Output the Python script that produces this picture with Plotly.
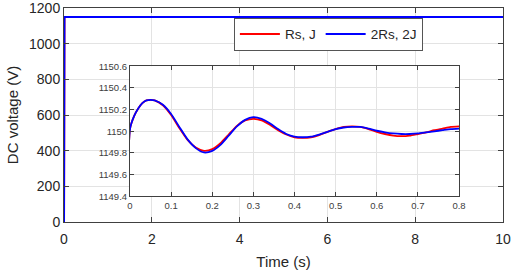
import plotly.graph_objects as go

# Inset detail (0 - 0.8 s)
t_fine = [0, 0.01, 0.02, 0.03, 0.04, 0.05, 0.06, 0.08, 0.10, 0.12, 0.14, 0.16, 0.18, 0.20,
          0.22, 0.24, 0.26, 0.28, 0.30, 0.32, 0.34, 0.36, 0.38, 0.40, 0.42, 0.44, 0.46,
          0.48, 0.50, 0.52, 0.54, 0.56, 0.58, 0.60, 0.62, 0.64, 0.66, 0.68, 0.70, 0.72,
          0.74, 0.76, 0.78, 0.80]
v_red = [1150.02, 1150.14, 1150.21, 1150.26, 1150.285, 1150.29, 1150.285, 1150.24, 1150.15,
         1150.03, 1149.92, 1149.85, 1149.82, 1149.835, 1149.89, 1149.97, 1150.05, 1150.10,
         1150.115, 1150.10, 1150.06, 1150.01, 1149.97, 1149.945, 1149.94, 1149.945, 1149.965,
         1149.995, 1150.02, 1150.04, 1150.045, 1150.04, 1150.02, 1149.995, 1149.975, 1149.96,
         1149.955, 1149.96, 1149.975, 1149.99, 1150.01, 1150.025, 1150.04, 1150.045]
v_blue = [1150.02, 1150.14, 1150.21, 1150.26, 1150.285, 1150.29, 1150.285, 1150.245, 1150.16,
          1150.04, 1149.925, 1149.845, 1149.805, 1149.82, 1149.875, 1149.96, 1150.045, 1150.105,
          1150.13, 1150.115, 1150.075, 1150.02, 1149.975, 1149.95, 1149.945, 1149.95, 1149.97,
          1149.995, 1150.02, 1150.035, 1150.04, 1150.04, 1150.025, 1150.005, 1149.99, 1149.98,
          1149.975, 1149.975, 1149.98, 1149.99, 1150.0, 1150.01, 1150.02, 1150.025]

# Full run: start-up from 0 V then steady state until 10 s
t_start = [0]
v_start = [0]
t_end = [10]
v_end = [1150]

names = ["Rs, J", "2Rs, 2J"]
colors = ["#ff0000", "#0000ff"]

FONT = "Liberation Sans, Arial, sans-serif"

fig = go.Figure()
for name, col, v in zip(names, colors, [v_red, v_blue]):
    fig.add_trace(go.Scatter(x=t_start + t_fine + t_end, y=v_start + v + v_end,
                             mode="lines", name=name, line=dict(color=col, width=2),
                             xaxis="x", yaxis="y", cliponaxis=False))
for name, col, v in zip(names, colors, [v_red, v_blue]):
    fig.add_trace(go.Scatter(x=t_start + t_fine, y=v_start + v, mode="lines", name=name,
                             line=dict(color=col, width=1.8, shape="spline", smoothing=0.6),
                             xaxis="x2", yaxis="y2", showlegend=False))

axcol = "#404040"
fig.update_layout(
    width=512, height=273,
    margin=dict(l=64, r=9, t=8, b=51),
    paper_bgcolor="white", plot_bgcolor="white",
    font=dict(family=FONT, color="#262626", size=14),
    xaxis=dict(range=[0, 10], dtick=2, showgrid=True, gridcolor="#e3e3e3",
               showline=True, linecolor=axcol, linewidth=1, mirror="ticks",
               ticks="inside", ticklen=5, tickcolor=axcol, zeroline=False,
               automargin=False, ticklabelstandoff=4, ticklabeloverflow="allow",
               title=dict(text="Time (s)", font=dict(size=15), standoff=10),
               tickfont=dict(size=14)),
    yaxis=dict(range=[0, 1200], tick0=0, dtick=200, showgrid=True, gridcolor="#e3e3e3",
               showline=True, linecolor=axcol, linewidth=1, mirror="ticks",
               ticks="inside", ticklen=5, tickcolor=axcol, zeroline=False,
               automargin=False, ticklabeloverflow="allow",
               title=dict(text="DC voltage (V)", font=dict(size=15), standoff=6),
               tickfont=dict(size=14)),
    xaxis2=dict(domain=[0.1503, 0.8998], anchor="y2", range=[0, 0.8], dtick=0.1,
                showgrid=True, gridcolor="#e3e3e3", showline=True, linecolor=axcol,
                linewidth=1, mirror="ticks", ticks="inside", ticklen=4, tickcolor=axcol,
                zeroline=False, automargin=False, tickformat="~f",
                tickfont=dict(size=9.5, color="#404040")),
    yaxis2=dict(domain=[0.1198, 0.728], anchor="x2", range=[1149.4, 1150.6], dtick=0.2,
                showgrid=True, gridcolor="#e3e3e3", showline=True, linecolor=axcol,
                linewidth=1, mirror="ticks", ticks="inside", ticklen=4, tickcolor=axcol,
                zeroline=False, automargin=False, tickformat="~f",
                tickfont=dict(size=9.5, color="#404040")),
    legend=dict(orientation="h", x=0.387, y=0.955, xanchor="left", yanchor="top",
                bgcolor="white", bordercolor="#555555", borderwidth=1,
                font=dict(size=13.5, color="#262626"), itemwidth=40,
                tracegroupgap=0),
    showlegend=True,
)

fig.write_html("out.html", config={"displayModeBar": False},
               post_script="document.body.style.margin='0px';")
